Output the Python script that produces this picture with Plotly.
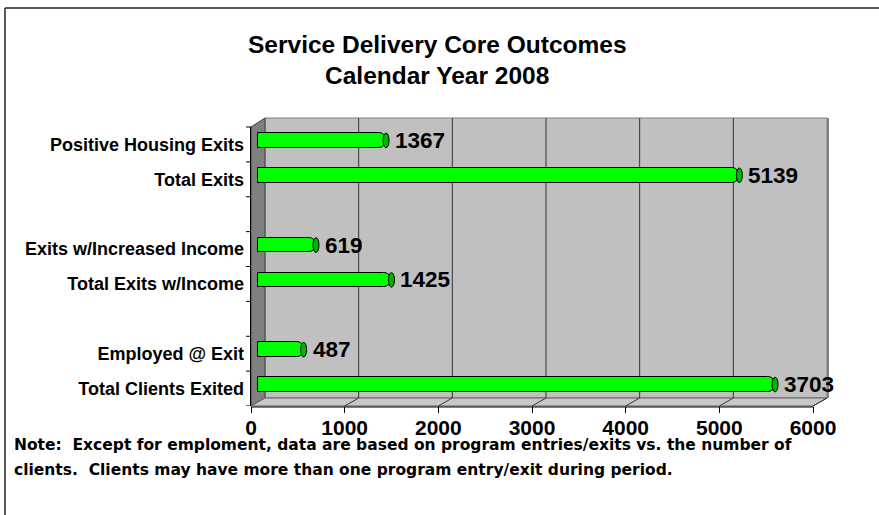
import plotly.graph_objects as go

# ---- data ----
categories = ["Positive Housing Exits", "Total Exits", "",
              "Exits w/Increased Income", "Total Exits w/Income", "",
              "Employed @ Exit", "Total Clients Exited"]
# bar lengths as drawn in the reference (the last bar is drawn well past its label value)
bar_lengths = [1367, 5139, None, 619, 1425, None, 487, 5520]
# data labels as printed in the reference
data_labels = ["1367", "5139", "", "619", "1425", "", "487", "3703"]
x_ticks = [0, 1000, 2000, 3000, 4000, 5000, 6000]
title_lines = ["Service Delivery Core Outcomes", "Calendar Year 2008"]
note_lines = ["Note:  Except for emploment, data are based on program entries/exits vs. the number of",
              "clients.  Clients may have more than one program entry/exit during period."]

# ---- geometry (pixels) ----
W, H = 879, 515
L, R, T, B = 251, 827, 118, 406          # plot area
DX, DY = 14, 8                           # 3-D depth offset
FRONT_END = 813                          # pixel of x=6000 on front plane
scale = (FRONT_END - L) / 6000.0         # px per unit
n = len(categories)
TOPF = T + 9                             # top of front plane
slot = (B - TOPF) / n

FONT = "Liberation Sans, Arial, sans-serif"
NOTE_FONT = "DejaVu Sans, Liberation Sans, sans-serif"

def px(xp):
    return (xp - L) / (R - L)

def py(yp):
    return (B - yp) / (B - T)

# front-plane axis ranges
x_front = [0, (R - L) / scale]
y_front = [n - 0.5, -0.5 - 9 / slot]
# mid-plane (bars) ranges
mx, my = DX / 2, DY / 2
x_mid = [-mx / scale, (R - L - mx) / scale]
y_mid = [n - 0.5 + my / slot, -0.5 - (9 - my) / slot]

idx = [i for i, v in enumerate(bar_lengths) if v is not None]
vals = [bar_lengths[i] for i in idx]
labs = [data_labels[i] for i in idx]

fig = go.Figure()
fig.add_trace(go.Bar(
    x=vals, y=idx, orientation="h", xaxis="x2", yaxis="y2",
    width=0.42,
    marker=dict(color="#00FF00", line=dict(color="#000000", width=1), cornerradius=7),
    hoverinfo="skip", showlegend=False,
))

shapes = []
# back wall
shapes.append(dict(type="rect", xref="paper", yref="paper",
                   x0=px(L + DX), x1=px(R), y0=py(B - DY), y1=py(T),
                   fillcolor="#C0C0C0", line=dict(color="#808080", width=1), layer="below"))
shapes.append(dict(type="line", xref="paper", yref="paper",
                   x0=px(R + 1), x1=px(R + 1), y0=py(B - DY), y1=py(T),
                   line=dict(color="#808080", width=2), layer="below"))
# left wall
shapes.append(dict(type="path", xref="paper", yref="paper",
                   path=f"M {px(L)} {py(TOPF)} L {px(L+DX)} {py(T)} L {px(L+DX)} {py(B-DY)} L {px(L)} {py(B)} Z",
                   fillcolor="#808080", line=dict(color="#404040", width=1), layer="below"))
# floor
shapes.append(dict(type="path", xref="paper", yref="paper",
                   path=f"M {px(L)} {py(B)} L {px(L+DX)} {py(B-DY)} L {px(R)} {py(B-DY)} L {px(FRONT_END)} {py(B)} Z",
                   fillcolor="#C8C8C8", line=dict(color="#606060", width=1), layer="below"))
# gridlines on back wall + floor diagonals
for v in x_ticks[1:-1]:
    shapes.append(dict(type="line", xref="x", yref="paper", xsizemode="pixel", xanchor=v,
                       x0=DX, x1=DX, y0=py(B - DY), y1=py(T),
                       line=dict(color="#333333", width=1), layer="below"))
for v in x_ticks[1:]:
    shapes.append(dict(type="line", xref="x", yref="paper", xsizemode="pixel", xanchor=v,
                       x0=0, x1=DX, y0=py(B), y1=py(B - DY),
                       line=dict(color="#333333", width=1), layer="below"))
# axis lines
shapes.append(dict(type="line", xref="x", yref="paper", x0=x_ticks[0], x1=x_ticks[-1],
                   y0=py(B + 1), y1=py(B + 1), line=dict(color="#000000", width=1)))
shapes.append(dict(type="line", xref="paper", yref="y", x0=px(L - 0.5), x1=px(L - 0.5),
                   y0=-0.5, y1=n - 0.5 + 2 / slot, line=dict(color="#000000", width=1)))
# y tick marks at category boundaries
for k in range(n + 1):
    shapes.append(dict(type="line", xref="paper", yref="y", xsizemode="pixel", xanchor=px(L),
                       x0=-5, x1=0, y0=k - 0.5, y1=k - 0.5,
                       line=dict(color="#000000", width=1)))
# bar end caps
for i, v in zip(idx, vals):
    shapes.append(dict(type="circle", xref="x2", yref="y2", xsizemode="pixel", xanchor=v,
                       x0=-3, x1=3, y0=i - 0.21, y1=i + 0.21,
                       fillcolor="#00B400", line=dict(color="#000000", width=1), layer="above"))
# outer frame
shapes.append(dict(type="line", xref="paper", yref="paper", x0=px(5), x1=px(5), y0=py(8), y1=py(H + 5),
                   line=dict(color="#222222", width=1.5)))
shapes.append(dict(type="line", xref="paper", yref="paper", x0=px(5), x1=px(W + 5), y0=py(8), y1=py(8),
                   line=dict(color="#222222", width=1.5)))

annotations = []
for i, v, t in zip(idx, vals, labs):
    annotations.append(dict(x=v, y=i, xref="x2", yref="y2", text=t, showarrow=False,
                            xanchor="left", yanchor="middle", xshift=7,
                            font=dict(family=FONT, size=22.5, color="#000000", weight="bold")))
for line, yp in zip(title_lines, [44, 75]):
    annotations.append(dict(x=px(437), y=py(yp), xref="paper", yref="paper", text=f"<b>{line}</b>",
                            showarrow=False, xanchor="center", yanchor="middle",
                            font=dict(family=FONT, size=24.5, color="#000000")))
for line, yp in zip(note_lines, [445, 470]):
    annotations.append(dict(x=px(12), y=py(yp), xref="paper", yref="paper", text=f"<b>{line}</b>",
                            showarrow=False, xanchor="left", yanchor="middle",
                            font=dict(family=NOTE_FONT, size=15.5, color="#000000")))

fig.update_layout(
    width=W, height=H,
    margin=dict(l=L, r=W - R, t=T, b=H - B, pad=0),
    paper_bgcolor="#FFFFFF", plot_bgcolor="rgba(0,0,0,0)",
    xaxis=dict(range=x_front, tickvals=x_ticks, ticktext=[str(t) for t in x_ticks],
               ticks="outside", ticklen=6, tickcolor="#000000", showgrid=False, zeroline=False,
               showline=False, ticklabelstandoff=-3,
               tickfont=dict(family=FONT, size=21, color="#000000", weight="bold")),
    yaxis=dict(range=y_front, tickvals=idx, ticktext=[categories[i] for i in idx],
               ticks="", showgrid=False, zeroline=False, showline=False, ticklabelstandoff=6,
               tickfont=dict(family=FONT, size=18, color="#000000", weight="bold")),
    xaxis2=dict(range=x_mid, overlaying="x", visible=False),
    yaxis2=dict(range=y_mid, overlaying="y", visible=False),
    shapes=shapes, annotations=annotations,
    bargap=0, showlegend=False,
)

fig.write_html("out.html", config={"displayModeBar": False},
               post_script="document.body.style.margin='0';")
